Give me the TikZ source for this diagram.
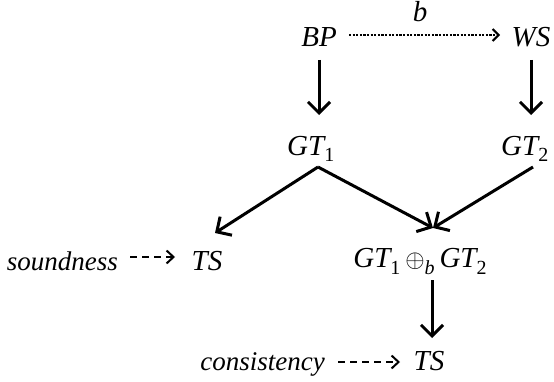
\documentclass[tikz,border=0pt]{standalone}
\usepackage{fontspec}
\newfontfamily\tmsup{Liberation Serif}
\usetikzlibrary{arrows.meta}
\newcommand{\lowsub}[1]{\raisebox{-7pt}{\fontsize{20}{20}\tmsup\upshape #1}}
\newcommand{\oplb}{\raisebox{0pt}{\fontsize{24}{24}\selectfont$\oplus$}\raisebox{-7pt}{\fontsize{20}{20}\tmsup\itshape b}}
\tikzset{
  lbl/.style={inner sep=0pt, font=\fontsize{29}{31}\tmsup\itshape},
  sml/.style={inner sep=0pt, font=\fontsize{27}{29}\tmsup\itshape},
  arr/.style={line width=3pt, -{Straight Barb[length=11pt,width=22pt,line width=3pt]}},
  dotarr/.style={line width=2.6pt, dash pattern=on 2.2pt off 1.4pt, -{Straight Barb[length=6pt,width=12pt,line width=2pt]}},
  dasharr/.style={line width=2pt, dash pattern=on 7pt off 5pt, -{Straight Barb[length=7pt,width=13pt,line width=2pt]}}
}
\begin{document}
\begin{tikzpicture}[x=1pt,y=1pt]
\useasboundingbox (0,0) rectangle (554,381);
\node[lbl, anchor=base] (BP) at (319,334) {BP};
\node[lbl, anchor=base] (WS) at (531,334) {WS};
\node[lbl, anchor=base] (b) at (420,359) {b};
\node[lbl, anchor=base west] (GT1) at (287,226) {GT\lowsub{1}};
\node[lbl, anchor=base west] (GT2) at (501,226) {GT\lowsub{2}};
\node[lbl, anchor=base] (TS1) at (207,111) {TS};
\node[sml, anchor=base east] (snd) at (118,111) {soundness};
\node[lbl, anchor=base] (comb) at (420,114) {GT\lowsub{1}\,\oplb\,GT\lowsub{2}};
\node[sml, anchor=base east] (cons) at (325,11) {consistency};
\node[lbl, anchor=base] (TS2) at (429,11) {TS};

\draw[dotarr] ([shift={(30pt,12pt)}]BP.base) -- ([shift={(-31pt,12pt)}]WS.base);
\draw[arr] ([yshift=-13pt]BP.base) -- ([yshift=40pt]BP.base |- GT1.base);
\draw[arr] ([yshift=-13pt]WS.base) -- ([yshift=40pt]WS.base |- GT2.base);
\draw[arr] ([shift={(31pt,-12pt)}]GT1.base west) -- ([shift={(8pt,37pt)}]TS1.base);
\draw[arr] ([shift={(31pt,-12pt)}]GT1.base west) -- ([shift={(13pt,39pt)}]comb.base);
\draw[arr] ([shift={(32pt,-12pt)}]GT2.base west) -- ([shift={(13pt,39pt)}]comb.base);
\draw[arr] ([shift={(12pt,-13pt)}]comb.base) -- ([shift={(3pt,32pt)}]TS2.base);
\draw[dasharr] ([shift={(12pt,13pt)}]snd.base east) -- ([shift={(-32pt,13pt)}]TS1.base);
\draw[dasharr] ([shift={(13pt,8pt)}]cons.base east) -- ([shift={(-29pt,8pt)}]TS2.base);
\end{tikzpicture}
\end{document}
